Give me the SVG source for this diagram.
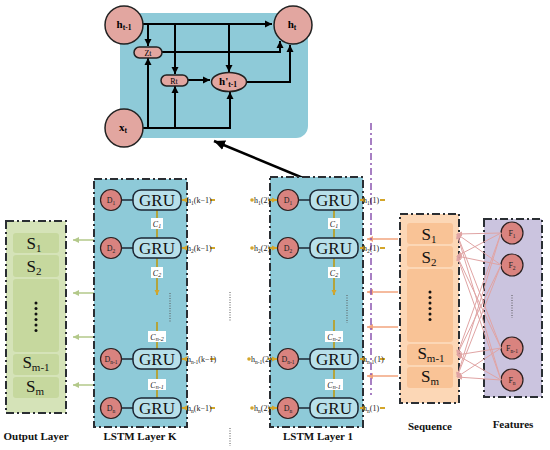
<svg xmlns="http://www.w3.org/2000/svg" width="550" height="450" viewBox="0 0 550 450">
<defs>
<marker id="ab" markerUnits="userSpaceOnUse" markerWidth="8" markerHeight="8" refX="7" refY="4" orient="auto"><path d="M0,0.5 L7,4 L0,7.5 Z" fill="#000"/></marker>
<marker id="abig" markerUnits="userSpaceOnUse" markerWidth="12" markerHeight="10" refX="11" refY="5" orient="auto"><path d="M0,0 L11,5 L0,10 Z" fill="#000"/></marker>
<marker id="ao" markerUnits="userSpaceOnUse" markerWidth="7" markerHeight="7" refX="6" refY="3.5" orient="auto"><path d="M0,0.5 L6,3.5 L0,6.5 Z" fill="#f2a47e"/></marker>
<marker id="ag" markerUnits="userSpaceOnUse" markerWidth="7" markerHeight="7" refX="6" refY="3.5" orient="auto"><path d="M0,0.5 L6,3.5 L0,6.5 Z" fill="#b3c98a"/></marker>
<marker id="ap" markerUnits="userSpaceOnUse" markerWidth="6" markerHeight="6" refX="5" refY="3" orient="auto"><path d="M0,0.5 L5,3 L0,5.5 Z" fill="#e0a4a4"/></marker>
<marker id="ay" markerUnits="userSpaceOnUse" markerWidth="6" markerHeight="6" refX="5" refY="3" orient="auto"><path d="M0,0.5 L5,3 L0,5.5 Z" fill="#d4a62a"/></marker>
</defs>
<style>
.serif{font-family:"Liberation Serif","Times New Roman",serif}
.lbl{font-family:"Liberation Serif",serif;font-weight:bold;font-size:11px;text-anchor:middle;fill:#111}
.layer{fill:#8ecad8;stroke:#2a2e33;stroke-width:2;stroke-dasharray:8,3,2,3}
.gru{fill:#b8e0ea;stroke:#1b2633;stroke-width:1.5}
.gtxt{font-family:"Liberation Serif",serif;font-size:17px;text-anchor:middle;fill:#111}
.d{fill:#d9837f;stroke:#2a2020;stroke-width:1.2}
.dtxt{font-family:"Liberation Serif",serif;font-size:8px;text-anchor:middle;fill:#222}
.tc{fill:#e2a6a0;stroke:#222;stroke-width:1.5}
.blk{fill:none;stroke:#000;stroke-width:2}
.cl{stroke:#b3a43c;stroke-width:2;fill:none}
.cbox{fill:#fff}
.ctxt{font-family:"Liberation Serif",serif;font-size:8px;font-style:italic;text-anchor:middle;fill:#222}
.htxt{font-family:"Liberation Serif",serif;font-size:8px;fill:#222}
.yl{stroke:#d4a62a;stroke-width:2;fill:none}
.dot{stroke:#555;stroke-width:1;stroke-dasharray:1,1.5;fill:none}
.stxt{font-family:"Liberation Serif",serif;font-size:17px;text-anchor:middle;fill:#111}
.ol{stroke:#f2a47e;stroke-width:1.5;fill:none}
.gl{stroke:#b3c98a;stroke-width:1.5;fill:none}
.pl{stroke:#e0a4a4;stroke-width:1;fill:none}
</style>

<!-- top GRU cell -->
<g id="gru-cell">
<path d="M120,13 H308 V126 A12,12 0 0 1 296,138 H120 Z" fill="#8ecad8"/>
</g>
<g id="connectors">
<g id="cell-arrows">
<path class="blk" d="M143,24 H272" marker-end="url(#ab)"/>
<path class="blk" d="M148,24 V46" marker-end="url(#ab)"/>
<path class="blk" d="M175,24 V74" marker-end="url(#ab)"/>
<path class="blk" d="M229,24 V72" marker-end="url(#ab)"/>
<path class="blk" d="M162,52 H280 V41" marker-end="url(#ab)"/>
<path class="blk" d="M247,82 H290 V45" marker-end="url(#ab)"/>
<path class="blk" d="M143,128 H230 V92" marker-end="url(#ab)"/>
<path class="blk" d="M148,128 V58" marker-end="url(#ab)"/>
<path class="blk" d="M175,128 V86" marker-end="url(#ab)"/>
<path class="blk" d="M188,80 H210" marker-end="url(#ab)"/>
</g>
<path d="M332,190 L214,141" stroke="#000" stroke-width="2.5" fill="none" marker-end="url(#abig)"/>
<!-- output arrows -->
<path class="gl" d="M95,240 H73" marker-end="url(#ag)"/>
<path class="gl" d="M95,293 H73" marker-end="url(#ag)"/>
<path class="gl" d="M95,337 H73" marker-end="url(#ag)"/>
<path class="gl" d="M95,385 H73" marker-end="url(#ag)"/>
<!-- sequence arrows -->
<path class="ol" d="M398,239 H367" marker-end="url(#ao)"/>
<path class="ol" d="M398,292 H367" marker-end="url(#ao)"/>
<path class="ol" d="M398,327 H367" marker-end="url(#ao)"/>
<path class="ol" d="M398,376 H367" marker-end="url(#ao)"/>
<!-- purple divider -->
<path d="M371,123 V395" stroke="#8a55b0" stroke-width="1.5" stroke-dasharray="7,3,2,3" fill="none"/>
<!-- dotted between layers -->
<path class="dot" d="M230,292 V322"/>
<path class="dot" d="M230,428 V446"/>
</g>

<g id="top-nodes">
<g id="h_prev"><circle class="tc" cx="124" cy="25" r="19"/><text class="serif" x="124" y="28" font-size="11" font-weight="bold" text-anchor="middle">h<tspan font-size="7.5" dy="2">t-1</tspan></text></g>
<g id="h_t"><circle class="tc" cx="293" cy="25" r="19"/><text class="serif" x="292" y="28" font-size="11" font-weight="bold" text-anchor="middle">h<tspan font-size="7.5" dy="2">t</tspan></text></g>
<g id="x_t"><circle class="tc" cx="124" cy="128" r="19"/><text class="serif" x="123" y="131" font-size="11" font-weight="bold" text-anchor="middle">x<tspan font-size="7.5" dy="2">t</tspan></text></g>
<g id="zt"><rect class="tc" x="134" y="47" width="28" height="11" rx="5.5" stroke-width="0.8"/><text class="serif" x="148" y="55.5" font-size="8" text-anchor="middle">Zt</text></g>
<g id="rt"><rect class="tc" x="161" y="75" width="27" height="11" rx="5.5" stroke-width="0.8"/><text class="serif" x="174" y="83.5" font-size="8" text-anchor="middle">Rt</text></g>
<g id="h_cand"><ellipse class="tc" cx="229" cy="82" rx="17.5" ry="9.5" stroke-width="2"/><text class="serif" x="228" y="85" font-size="11" font-weight="bold" text-anchor="middle">h'<tspan font-size="7.5" dy="2">t-1</tspan></text></g>
</g>

<!-- Output layer -->
<g id="output-layer">
<rect x="6" y="221" width="60" height="192" fill="#d5e3b8" stroke="#2a2e33" stroke-width="2" stroke-dasharray="8,3,2,3"/>
<rect x="13" y="233" width="46" height="20" rx="3" fill="#c6d89e"/>
<rect x="13" y="255" width="46" height="22" rx="3" fill="#c6d89e"/>
<rect x="13" y="279" width="46" height="73" rx="3" fill="#c6d89e"/>
<rect x="13" y="354" width="46" height="21" rx="3" fill="#c6d89e"/>
<rect x="13" y="377" width="46" height="21" rx="3" fill="#c6d89e"/>
<text class="stxt" x="34" y="249">S<tspan font-size="11" dy="3">1</tspan></text>
<text class="stxt" x="34" y="272">S<tspan font-size="11" dy="3">2</tspan></text>
<g fill="#111"><circle cx="36" cy="303" r="1.5"/><circle cx="36" cy="308.5" r="1.5"/><circle cx="36" cy="314" r="1.5"/><circle cx="36" cy="319.5" r="1.5"/><circle cx="36" cy="325" r="1.5"/><circle cx="36" cy="330.5" r="1.5"/></g>
<text class="stxt" x="36" y="368">S<tspan font-size="11" dy="3">m-1</tspan></text>
<text class="stxt" x="35" y="392">S<tspan font-size="11" dy="3">m</tspan></text>
<text class="lbl" x="36" y="440">Output Layer</text>
</g>

<!-- LSTM Layer K -->
<g id="layer-k">
<rect class="layer" x="94" y="179" width="93" height="248"/>
<path class="dot" d="M170,293 V323"/>
<g class="cl">
<path d="M157,210 V238"/><path d="M157,258 V295" marker-end="url(#ay)"/><path d="M157,322 V349"/><path d="M157,369 V398"/>
</g>
<rect class="cbox" x="151" y="218" width="12" height="11"/><text class="ctxt" x="157" y="227">C<tspan font-size="6" dy="1">1</tspan></text>
<rect class="cbox" x="151" y="267" width="12" height="11"/><text class="ctxt" x="157" y="276">C<tspan font-size="6" dy="1">2</tspan></text>
<rect class="cbox" x="148" y="331" width="18" height="11"/><text class="ctxt" x="157" y="340">C<tspan font-size="6" dy="1">n-2</tspan></text>
<rect class="cbox" x="148" y="379" width="18" height="11"/><text class="ctxt" x="157" y="388">C<tspan font-size="6" dy="1">n-1</tspan></text>
<g id="k-row1"><line x1="121" y1="200" x2="133" y2="200" stroke="#1b2633" stroke-width="1.5"/><circle class="d" cx="111" cy="200" r="10.5"/><text class="dtxt" x="111" y="203">D<tspan font-size="5.5" dy="1.5">1</tspan></text><rect class="gru" x="133" y="190" width="48" height="20" rx="8"/><text class="gtxt" x="157" y="206">GRU</text></g>
<g id="k-row2"><line x1="121" y1="248" x2="133" y2="248" stroke="#1b2633" stroke-width="1.5"/><circle class="d" cx="111" cy="248" r="10.5"/><text class="dtxt" x="111" y="251">D<tspan font-size="5.5" dy="1.5">2</tspan></text><rect class="gru" x="133" y="238" width="48" height="20" rx="8"/><text class="gtxt" x="157" y="254">GRU</text></g>
<g id="k-row3"><line x1="121" y1="359" x2="133" y2="359" stroke="#1b2633" stroke-width="1.5"/><circle class="d" cx="111" cy="359" r="10.5"/><text class="dtxt" x="111" y="362">D<tspan font-size="5.5" dy="1.5">n-1</tspan></text><rect class="gru" x="133" y="349" width="48" height="20" rx="8"/><text class="gtxt" x="157" y="365">GRU</text></g>
<g id="k-row4"><line x1="121" y1="408" x2="133" y2="408" stroke="#1b2633" stroke-width="1.5"/><circle class="d" cx="111" cy="408" r="10.5"/><text class="dtxt" x="111" y="411">D<tspan font-size="5.5" dy="1.5">n</tspan></text><rect class="gru" x="133" y="398" width="48" height="20" rx="8"/><text class="gtxt" x="157" y="414">GRU</text></g>
<g class="yl">
<path d="M210,200 H215"/><path d="M187,200 H182" marker-end="url(#ay)"/>
<path d="M210,248 H215"/><path d="M187,248 H182" marker-end="url(#ay)"/>
<path d="M210,359 H215"/><path d="M187,359 H182" marker-end="url(#ay)"/>
<path d="M210,408 H215"/><path d="M187,408 H182" marker-end="url(#ay)"/>
</g>
<text class="htxt" x="187" y="203">h<tspan font-size="5.5" dy="1.5">1</tspan><tspan dy="-1.5">(k−1)</tspan></text>
<text class="htxt" x="187" y="251">h<tspan font-size="5.5" dy="1.5">2</tspan><tspan dy="-1.5">(k−1)</tspan></text>
<text class="htxt" x="187" y="362">h<tspan font-size="5.5" dy="1.5">n-1</tspan><tspan dy="-1.5">(k−1)</tspan></text>
<text class="htxt" x="187" y="411">h<tspan font-size="5.5" dy="1.5">n</tspan><tspan dy="-1.5">(k−1)</tspan></text>
<text class="lbl" x="140" y="440">LSTM Layer K</text>
</g>

<!-- LSTM Layer 1 -->
<g id="layer-1">
<rect class="layer" x="270" y="177" width="93" height="250"/>
<path class="dot" d="M347,295 V323"/>
<g class="cl">
<path d="M334,210 V238"/><path d="M334,258 V295" marker-end="url(#ay)"/><path d="M334,320 V349"/><path d="M334,369 V398"/>
</g>
<rect class="cbox" x="328" y="218" width="12" height="11"/><text class="ctxt" x="334" y="227">C<tspan font-size="6" dy="1">1</tspan></text>
<rect class="cbox" x="328" y="267" width="12" height="11"/><text class="ctxt" x="334" y="276">C<tspan font-size="6" dy="1">2</tspan></text>
<rect class="cbox" x="325" y="331" width="18" height="11"/><text class="ctxt" x="334" y="340">C<tspan font-size="6" dy="1">n-2</tspan></text>
<rect class="cbox" x="325" y="379" width="18" height="11"/><text class="ctxt" x="334" y="388">C<tspan font-size="6" dy="1">n-1</tspan></text>
<g id="l1-row1"><line x1="298" y1="200" x2="310" y2="200" stroke="#1b2633" stroke-width="1.5"/><circle class="d" cx="288" cy="200" r="10.5"/><text class="dtxt" x="288" y="203">D<tspan font-size="5.5" dy="1.5">1</tspan></text><rect class="gru" x="310" y="190" width="48" height="20" rx="8"/><text class="gtxt" x="334" y="206">GRU</text></g>
<g id="l1-row2"><line x1="298" y1="248" x2="310" y2="248" stroke="#1b2633" stroke-width="1.5"/><circle class="d" cx="288" cy="248" r="10.5"/><text class="dtxt" x="288" y="251">D<tspan font-size="5.5" dy="1.5">2</tspan></text><rect class="gru" x="310" y="238" width="48" height="20" rx="8"/><text class="gtxt" x="334" y="254">GRU</text></g>
<g id="l1-row3"><line x1="298" y1="359" x2="310" y2="359" stroke="#1b2633" stroke-width="1.5"/><circle class="d" cx="288" cy="359" r="10.5"/><text class="dtxt" x="288" y="362">D<tspan font-size="5.5" dy="1.5">n-1</tspan></text><rect class="gru" x="310" y="349" width="48" height="20" rx="8"/><text class="gtxt" x="334" y="365">GRU</text></g>
<g id="l1-row4"><line x1="298" y1="408" x2="310" y2="408" stroke="#1b2633" stroke-width="1.5"/><circle class="d" cx="288" cy="408" r="10.5"/><text class="dtxt" x="288" y="411">D<tspan font-size="5.5" dy="1.5">n</tspan></text><rect class="gru" x="310" y="398" width="48" height="20" rx="8"/><text class="gtxt" x="334" y="414">GRU</text></g>
<g class="yl">
<path d="M268,200 H277" marker-end="url(#ay)"/><path d="M268,248 H277" marker-end="url(#ay)"/><path d="M268,359 H277" marker-end="url(#ay)"/><path d="M268,408 H277" marker-end="url(#ay)"/>
<path d="M380,200 H385"/><path d="M362,200 H360" marker-end="url(#ay)"/>
<path d="M380,248 H385"/><path d="M362,248 H360" marker-end="url(#ay)"/>
<path d="M380,359 H385"/><path d="M362,359 H360" marker-end="url(#ay)"/>
<path d="M380,408 H385"/><path d="M362,408 H360" marker-end="url(#ay)"/>
</g>
<g fill="#d4a62a"><circle cx="252" cy="200" r="1.8"/><circle cx="252" cy="248" r="1.8"/><circle cx="249" cy="359" r="1.8"/><circle cx="252" cy="408" r="1.8"/></g>
<text class="htxt" x="254" y="203">h<tspan font-size="5.5" dy="1.5">1</tspan><tspan dy="-1.5">(2)</tspan></text>
<text class="htxt" x="254" y="251">h<tspan font-size="5.5" dy="1.5">2</tspan><tspan dy="-1.5">(2)</tspan></text>
<text class="htxt" x="251" y="362">h<tspan font-size="5.5" dy="1.5">n-1</tspan><tspan dy="-1.5">(2)</tspan></text>
<text class="htxt" x="254" y="411">h<tspan font-size="5.5" dy="1.5">n</tspan><tspan dy="-1.5">(2)</tspan></text>
<text class="htxt" x="363" y="203">h<tspan font-size="5.5" dy="1.5">1</tspan><tspan dy="-1.5">(1)</tspan></text>
<text class="htxt" x="363" y="251">h<tspan font-size="5.5" dy="1.5">2</tspan><tspan dy="-1.5">(1)</tspan></text>
<text class="htxt" x="363" y="362">h<tspan font-size="5.5" dy="1.5">n-1</tspan><tspan dy="-1.5">(1)</tspan></text>
<text class="htxt" x="363" y="411">h<tspan font-size="5.5" dy="1.5">n</tspan><tspan dy="-1.5">(1)</tspan></text>
<text class="lbl" x="318" y="440">LSTM Layer 1</text>
</g>

<!-- Sequence -->
<g id="sequence">
<rect x="400" y="214" width="59" height="189" fill="#fcd7b6" stroke="#2a2e33" stroke-width="2" stroke-dasharray="8,3,2,3"/>
<rect x="407" y="223" width="46" height="21" rx="3" fill="#f9c396"/>
<rect x="407" y="246" width="46" height="21" rx="3" fill="#f9c396"/>
<rect x="407" y="269" width="46" height="73" rx="3" fill="#f9c396"/>
<rect x="407" y="344" width="46" height="21" rx="3" fill="#f9c396"/>
<rect x="407" y="367" width="46" height="21" rx="3" fill="#f9c396"/>
<text class="stxt" x="429" y="240">S<tspan font-size="11" dy="3">1</tspan></text>
<text class="stxt" x="429" y="263">S<tspan font-size="11" dy="3">2</tspan></text>
<g fill="#111"><circle cx="430" cy="292" r="1.5"/><circle cx="430" cy="297.5" r="1.5"/><circle cx="430" cy="303" r="1.5"/><circle cx="430" cy="308.5" r="1.5"/><circle cx="430" cy="314" r="1.5"/><circle cx="430" cy="319.5" r="1.5"/></g>
<text class="stxt" x="431" y="359">S<tspan font-size="11" dy="3">m-1</tspan></text>
<text class="stxt" x="430" y="382">S<tspan font-size="11" dy="3">m</tspan></text>
<text class="lbl" x="430" y="430">Sequence</text>
</g>

<!-- Features -->
<g id="features">
<rect x="484" y="219" width="58" height="178" fill="#cbc4df" stroke="#2a2e33" stroke-width="2" stroke-dasharray="8,3,2,3"/>
<path class="dot" d="M512,295 V318"/>
<g id="f1"><circle class="d" cx="512" cy="233" r="11"/><text class="dtxt" x="512" y="236">F<tspan font-size="5.5" dy="1.5">1</tspan></text></g>
<g id="f2"><circle class="d" cx="512" cy="265" r="11"/><text class="dtxt" x="512" y="268">F<tspan font-size="5.5" dy="1.5">2</tspan></text></g>
<g id="fn1"><circle class="d" cx="512" cy="348" r="11"/><text class="dtxt" x="512" y="351">F<tspan font-size="5.5" dy="1.5">n-1</tspan></text></g>
<g id="fn"><circle class="d" cx="512" cy="380" r="11"/><text class="dtxt" x="512" y="383">F<tspan font-size="5.5" dy="1.5">n</tspan></text></g>
<text class="lbl" x="513" y="428">Features</text>
</g>

<g id="feature-links">
<path class="pl" d="M501,233 L457,234" marker-end="url(#ap)"/>
<path class="pl" d="M501,233 L457,256" marker-end="url(#ap)"/>
<path class="pl" d="M501,233 L457,355" marker-end="url(#ap)"/>
<path class="pl" d="M501,233 L457,377" marker-end="url(#ap)"/>
<path class="pl" d="M501,265 L457,234" marker-end="url(#ap)"/>
<path class="pl" d="M501,265 L457,256" marker-end="url(#ap)"/>
<path class="pl" d="M501,265 L457,355" marker-end="url(#ap)"/>
<path class="pl" d="M501,265 L457,377" marker-end="url(#ap)"/>
<path class="pl" d="M501,348 L457,234" marker-end="url(#ap)"/>
<path class="pl" d="M501,348 L457,256" marker-end="url(#ap)"/>
<path class="pl" d="M501,348 L457,355" marker-end="url(#ap)"/>
<path class="pl" d="M501,348 L457,377" marker-end="url(#ap)"/>
<path class="pl" d="M501,380 L457,234" marker-end="url(#ap)"/>
<path class="pl" d="M501,380 L457,256" marker-end="url(#ap)"/>
<path class="pl" d="M501,380 L457,355" marker-end="url(#ap)"/>
<path class="pl" d="M501,380 L457,377" marker-end="url(#ap)"/>
</g>
</svg>
